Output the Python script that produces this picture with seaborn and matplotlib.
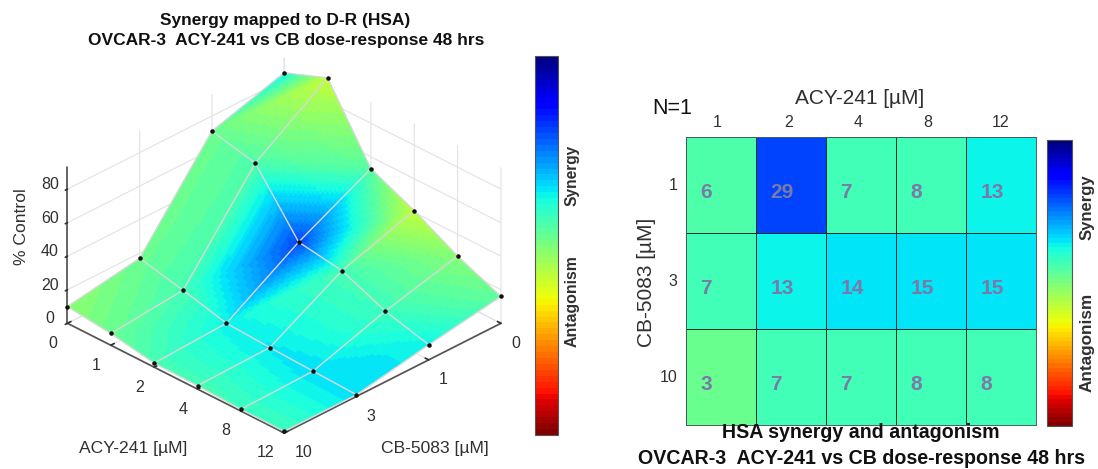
import numpy as np
import pandas as pd
import seaborn as sns
import matplotlib
matplotlib.use("Agg")
import matplotlib.pyplot as plt
from matplotlib.cm import ScalarMappable
from matplotlib.colors import Normalize

acy_labels = ["0", "1", "2", "4", "8", "12"]
cb_labels = ["0", "1", "3", "10"]

# % control, one list per CB-5083 dose
z_cb0 = [84, 94, 53, 41, 27, 16]
z_cb1 = [71, 65, 31, 27, 16, 9]
z_cb3 = [17, 11, 4.4, 3, 2, 1]
z_cb10 = [10, 7, 2.4, 2, 1, 1]

# synergy score at each surface point
s_cb0 = [13, -7, 5, -7, 0, 4]
s_cb1 = [3, 6, 29, 7, 8, 13]
s_cb3 = [3, 7, 13, 14, 15, 15]
s_cb10 = [-1, 3, 7, 7, 8, 8]

heat_cols = ["1", "2", "4", "8", "12"]
heat_rows = ["1", "3", "10"]
heat_cb1 = [6, 29, 7, 8, 13]
heat_cb3 = [7, 13, 14, 15, 15]
heat_cb10 = [3, 7, 7, 8, 8]

W, H = 1098, 469

sns.set_theme(style="white")
plt.rcParams["font.family"] = ["Liberation Sans", "DejaVu Sans"]
dark = "#303030"
cmap = plt.get_cmap("jet_r", 64)
norm = Normalize(vmin=-45, vmax=46.7)


def box(x0, y0, x1, y1):
    # pixel box to figure fractions
    return [x0 / W, 1 - y1 / H, (x1 - x0) / W, (y1 - y0) / H]


def refine(grid, n=24):
    # only for shading between the read points: each quad is split in two
    # triangles along the (r+1, c) - (r, c+1) diagonal
    grid = np.array(grid, dtype=float)
    rows, cols = grid.shape
    out = np.zeros(((rows - 1) * n + 1, (cols - 1) * n + 1))
    for a in range(out.shape[0]):
        for b in range(out.shape[1]):
            r, fr = min(a // n, rows - 2), a / n - min(a // n, rows - 2)
            c, fc = min(b // n, cols - 2), b / n - min(b // n, cols - 2)
            if fr + fc <= 1:
                out[a, b] = grid[r, c] + fr * (grid[r + 1, c] - grid[r, c]) + fc * (grid[r, c + 1] - grid[r, c])
            else:
                k = grid[r + 1, c + 1]
                out[a, b] = k + (1 - fr) * (grid[r, c + 1] - k) + (1 - fc) * (grid[r + 1, c] - k)
    return out


fig = plt.figure(figsize=(W / 100, H / 100), dpi=100)

# left: 3D surface
z = np.array([z_cb0, z_cb1, z_cb3, z_cb10])
s = np.array([s_cb0, s_cb1, s_cb3, s_cb10])
ii, jj = np.meshgrid(np.arange(len(cb_labels)), np.arange(len(acy_labels)), indexing="ij")

ax = fig.add_axes(box(-8.5, -32, 561.5, 538), projection="3d", computed_zorder=False)
ax.patch.set_alpha(0)
ax.view_init(elev=30.4, azim=45)
ax.set_proj_type("ortho")
ax.set_box_aspect((1, 1, 0.59), zoom=0.80)
ax.set_xlim(0, 3, view_margin=0)
ax.set_ylim(0, 5, view_margin=0)
ax.set_zlim(0, 93, view_margin=0)

sf = refine(s)
sc = (sf[:-1, :-1] + sf[1:, :-1] + sf[:-1, 1:] + sf[1:, 1:]) / 4
face = cmap(norm(sc))
surf = ax.plot_surface(refine(ii), refine(jj), refine(z), rstride=1, cstride=1,
                       facecolors=face, shade=False, linewidth=0.4, zorder=1)
surf.set_edgecolor(face.reshape(-1, 4))

for r in range(z.shape[0]):
    ax.plot(ii[r], jj[r], z[r], color="#d8d8d8", lw=1, zorder=2)
for c in range(z.shape[1]):
    ax.plot(ii[:, c], jj[:, c], z[:, c], color="#d8d8d8", lw=1, zorder=2)
ax.scatter(ii.ravel(), jj.ravel(), z.ravel(), color="#111111", s=5, depthshade=False, zorder=3)

ax.set_xticks(range(len(cb_labels)), cb_labels)
ax.set_yticks(range(len(acy_labels)), acy_labels)
ax.set_zticks([0, 20, 40, 60, 80])
ax.tick_params(labelsize=11.5, colors=dark, pad=2)
ax.tick_params(axis="z", pad=0.7)
for axis in (ax.xaxis, ax.yaxis, ax.zaxis):
    axis.set_pane_color((1, 1, 1, 0))
    axis.pane.set_edgecolor((1, 1, 1, 0))
    axis.line.set_color("#555555")
    axis._axinfo["grid"]["color"] = "#e2e2e2"
    axis._axinfo["grid"]["linewidth"] = 0.8
    axis._axinfo["tick"]["color"] = "#555555"
    axis._axinfo["tick"]["inward_factor"] = 0
    axis._axinfo["tick"]["outward_factor"] = 0.2
ax.zaxis._axinfo["tick"]["inward_factor"] = 0.12
ax.zaxis._axinfo["tick"]["outward_factor"] = 0
for t in ax.get_xticklabels():
    t.set_ha("left")
for t in ax.get_yticklabels():
    t.set_ha("right")
for t in ax.get_zticklabels():
    t.set_va("baseline")

fig.text(133 / W, 1 - 448 / H, "ACY-241 [µM]", ha="center", va="center", fontsize=12.6, color=dark)
fig.text(435 / W, 1 - 448 / H, "CB-5083 [µM]", ha="center", va="center", fontsize=12.6, color=dark)
fig.text(22 / W, 1 - 227 / H, "% Control", rotation=90, ha="center", va="center", fontsize=12.6, color=dark)

fig.text(285 / W, 1 - 20 / H, "Synergy mapped to D-R (HSA)", ha="center", va="center",
         fontsize=12.5, fontweight="bold", color="#111111")
fig.text(286 / W, 1 - 40 / H, "OVCAR-3  ACY-241 vs CB dose-response 48 hrs", ha="center", va="center",
         fontsize=12.5, fontweight="bold", color="#111111")

cax = fig.add_axes(box(535, 56, 558, 435))
cb = fig.colorbar(ScalarMappable(norm=norm, cmap=cmap), cax=cax, ticks=[])
cb.outline.set_edgecolor("#555555")
cb.outline.set_linewidth(0.8)
fig.text(572 / W, 1 - 175 / H, "Synergy", rotation=90, ha="center", va="center",
         fontsize=11.2, fontweight="bold", color=dark)
fig.text(572 / W, 1 - 301 / H, "Antagonism", rotation=90, ha="center", va="center",
         fontsize=11.4, fontweight="bold", color=dark)

# right: heatmap
table = pd.DataFrame([heat_cb1, heat_cb3, heat_cb10], index=heat_rows, columns=heat_cols)
hax = fig.add_axes(box(686, 137, 1036, 425))
hcax = fig.add_axes(box(1047, 140, 1072, 426))
sns.heatmap(table, ax=hax, cbar_ax=hcax, cmap=cmap, norm=norm, annot=True, fmt="d",
            linewidths=0.7, linecolor="#10302c", cbar_kws={"ticks": []},
            annot_kws={"ha": "left", "color": "#7a7aa8", "fontsize": 15, "fontweight": "bold"})
for t in hax.texts:
    t.set_x(t.get_position()[0] - 0.295)
    t.set_y(t.get_position()[1] + 0.08)
hcb = hax.collections[0].colorbar
hcb.outline.set_linewidth(0.8)
hcb.outline.set_edgecolor("#555555")
hax.xaxis.tick_top()
hax.set_xticks([0.45, 1.46, 2.46, 3.46, 4.5], heat_cols)
hax.tick_params(length=0, labelsize=11.5, labelcolor=dark, pad=5)
hax.tick_params(axis="y", labelrotation=0, pad=6)
for spine in hax.spines.values():
    spine.set_visible(True)
    spine.set_edgecolor("#44605c")
    spine.set_linewidth(0.7)
hax.set_xlabel("")
hax.set_ylabel("")
fig.text(647 / W, 1 - 282 / H, "CB-5083 [µM]", rotation=90, ha="center", va="center", fontsize=15, color=dark)
fig.text(860 / W, 1 - 98 / H, "ACY-241 [µM]", ha="center", va="center", fontsize=15, color=dark)
fig.text(672 / W, 1 - 109 / H, "N=1", ha="center", va="center", fontsize=15.5, color="#111111")
fig.text(1087 / W, 1 - 207 / H, "Synergy", rotation=90, ha="center", va="center",
         fontsize=12, fontweight="bold", color=dark)
fig.text(1087 / W, 1 - 342 / H, "Antagonism", rotation=90, ha="center", va="center",
         fontsize=12.3, fontweight="bold", color=dark)
fig.text(861 / W, 1 - 433 / H, "HSA synergy and antagonism", ha="center", va="center",
         fontsize=14.1, fontweight="bold", color="#111111")
fig.text(861 / W, 1 - 458 / H, "OVCAR-3  ACY-241 vs CB dose-response 48 hrs", ha="center", va="center",
         fontsize=14.1, fontweight="bold", color="#111111")

fig.savefig("out.png", dpi=100)
